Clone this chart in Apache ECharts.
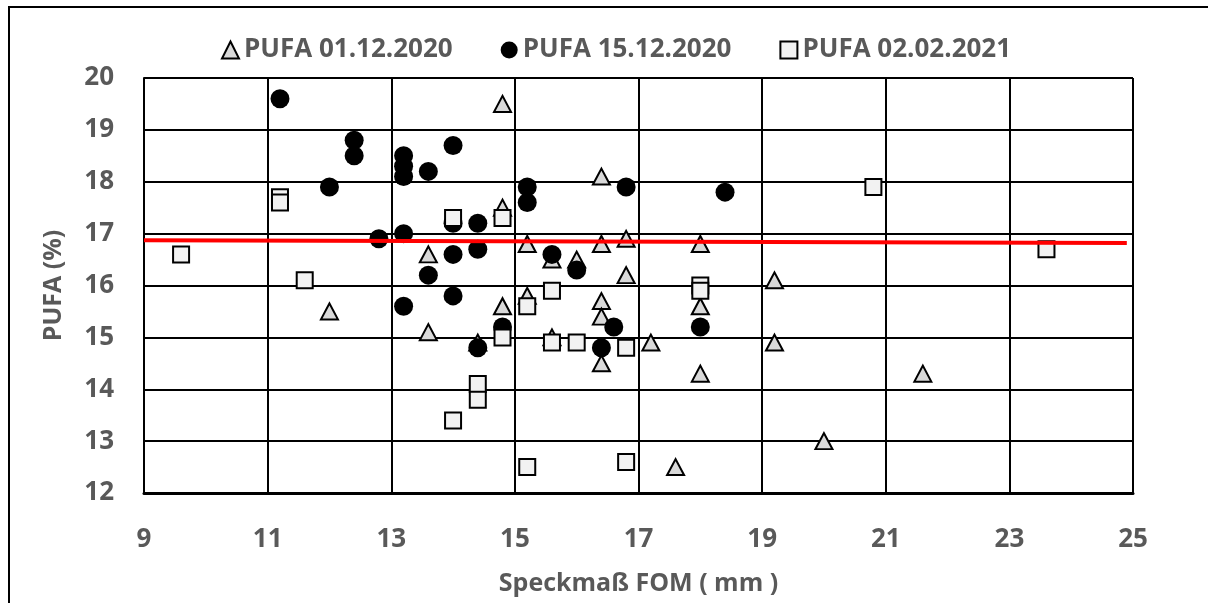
<!DOCTYPE html>
<html>
<head>
<meta charset="utf-8">
<script src="https://cdn.jsdelivr.net/npm/echarts@6/dist/echarts.min.js"></script>
<style>
  html, body { margin: 0; padding: 0; background: #fff; }
  #chart { width: 1208px; height: 603px; }
</style>
</head>
<body>
<div id="chart"></div>
<script>
// PUFA content (%) against back fat thickness FOM (mm), three sampling dates
const seriesNames = ['PUFA 01.12.2020', 'PUFA 15.12.2020', 'PUFA 02.02.2021'];

const pufa20201201 = [
  [14.8, 19.5], [16.4, 18.1], [14.8, 17.5], [15.2, 16.8], [16.4, 16.8],
  [16.8, 16.9], [18.0, 16.8], [13.6, 16.6], [15.6, 16.5], [16.0, 16.5],
  [16.8, 16.2], [19.2, 16.1], [12.0, 15.5], [14.8, 15.6], [15.2, 15.8],
  [16.4, 15.7], [16.4, 15.4], [18.0, 15.6], [13.6, 15.1], [14.4, 14.9],
  [15.6, 15.0], [17.2, 14.9], [19.2, 14.9], [16.4, 14.5], [18.0, 14.3],
  [21.6, 14.3], [20.0, 13.0], [17.6, 12.5]
];

const pufa20201215 = [
  [11.2, 19.6], [12.4, 18.8], [12.4, 18.5], [13.2, 18.5], [13.2, 18.3],
  [13.2, 18.1], [14.0, 18.7], [13.6, 18.2], [12.0, 17.9], [15.2, 17.9],
  [15.2, 17.6], [16.8, 17.9], [18.4, 17.8], [14.0, 17.2], [14.4, 17.2],
  [13.2, 17.0], [12.8, 16.9], [14.0, 16.6], [14.4, 16.7], [15.6, 16.6],
  [16.0, 16.3], [13.6, 16.2], [14.0, 15.8], [13.2, 15.6], [14.8, 15.2],
  [16.6, 15.2], [18.0, 15.2], [14.4, 14.8], [16.4, 14.8]
];

const pufa20210202 = [
  [9.6, 16.6], [11.2, 17.7], [11.2, 17.6], [11.6, 16.1], [14.0, 17.3],
  [14.8, 17.3], [15.2, 15.6], [15.6, 15.9], [14.8, 15.0], [15.6, 14.9],
  [16.0, 14.9], [16.8, 14.8], [18.0, 16.0], [18.0, 15.9], [14.4, 14.1],
  [14.4, 13.8], [14.0, 13.4], [15.2, 12.5], [16.8, 12.6], [20.8, 17.9],
  [23.6, 16.7]
];

// linear trend line end points
const trendLine = [[9, 16.87], [24.9, 16.82]];

const xTicks = { min: 9, max: 25, interval: 2 };
const yTicks = { min: 12, max: 20, interval: 1 };

const FONT = 'Open Sans';
const TEXT_COLOR = '#595959';

const chart = echarts.init(document.getElementById('chart'), null, { renderer: 'canvas' });

const axisText = { color: TEXT_COLOR, fontFamily: FONT, fontWeight: 'bold', fontSize: 26 };

chart.setOption({
  animation: false,
  backgroundColor: '#ffffff',
  graphic: [{
    type: 'rect',
    silent: true,
    shape: { x: 9, y: 7, width: 1300, height: 700 },
    style: { fill: 'none', stroke: '#000', lineWidth: 2 }
  }],
  legend: {
    top: 32,
    left: 216,
    itemGap: 48,
    itemWidth: 17,
    itemHeight: 17,
    data: seriesNames,
    textStyle: { color: TEXT_COLOR, fontFamily: FONT, fontWeight: 'bold', fontSize: 26 }
  },
  grid: { left: 144, top: 78, right: 75, bottom: 110, containLabel: false },
  xAxis: {
    type: 'value',
    min: xTicks.min, max: xTicks.max, interval: xTicks.interval,
    name: 'Speckmaß FOM ( mm )',
    nameLocation: 'middle',
    nameGap: 78,
    nameTextStyle: Object.assign({}, axisText, { fontSize: 25 }),
    axisLine: { show: true, lineStyle: { color: '#000', width: 3 } },
    axisTick: { show: false },
    axisLabel: Object.assign({ margin: 34 }, axisText),
    splitLine: { show: true, lineStyle: { color: '#000', width: 2 } }
  },
  yAxis: {
    type: 'value',
    min: yTicks.min, max: yTicks.max, interval: yTicks.interval,
    name: 'PUFA (%)',
    nameLocation: 'middle',
    nameGap: 78,
    nameRotate: 90,
    nameTextStyle: Object.assign({}, axisText, { fontSize: 25 }),
    axisLine: { show: true, lineStyle: { color: '#000', width: 2 } },
    axisTick: { show: false },
    axisLabel: Object.assign({ margin: 30 }, axisText),
    splitLine: { show: true, lineStyle: { color: '#000', width: 2 } }
  },
  series: [
    {
      name: seriesNames[0],
      type: 'scatter',
      symbol: 'triangle',
      symbolSize: [17, 16],
      data: pufa20201201,
      itemStyle: { color: '#d9d9d9', borderColor: '#000', borderWidth: 2, opacity: 1 },
      z: 2
    },
    {
      name: seriesNames[1],
      type: 'scatter',
      symbol: 'circle',
      symbolSize: 19,
      data: pufa20201215,
      itemStyle: { color: '#000', borderColor: '#000', borderWidth: 0, opacity: 1 },
      z: 3
    },
    {
      name: seriesNames[2],
      type: 'scatter',
      symbol: 'rect',
      symbolSize: 16,
      data: pufa20210202,
      itemStyle: { color: '#f2f2f2', borderColor: '#000', borderWidth: 2, opacity: 1 },
      z: 4
    },
    {
      name: 'Trend',
      type: 'line',
      data: trendLine,
      showSymbol: false,
      symbol: 'none',
      silent: true,
      lineStyle: { color: '#ff0000', width: 4 },
      z: 5
    }
  ]
});
</script>
</body>
</html>
